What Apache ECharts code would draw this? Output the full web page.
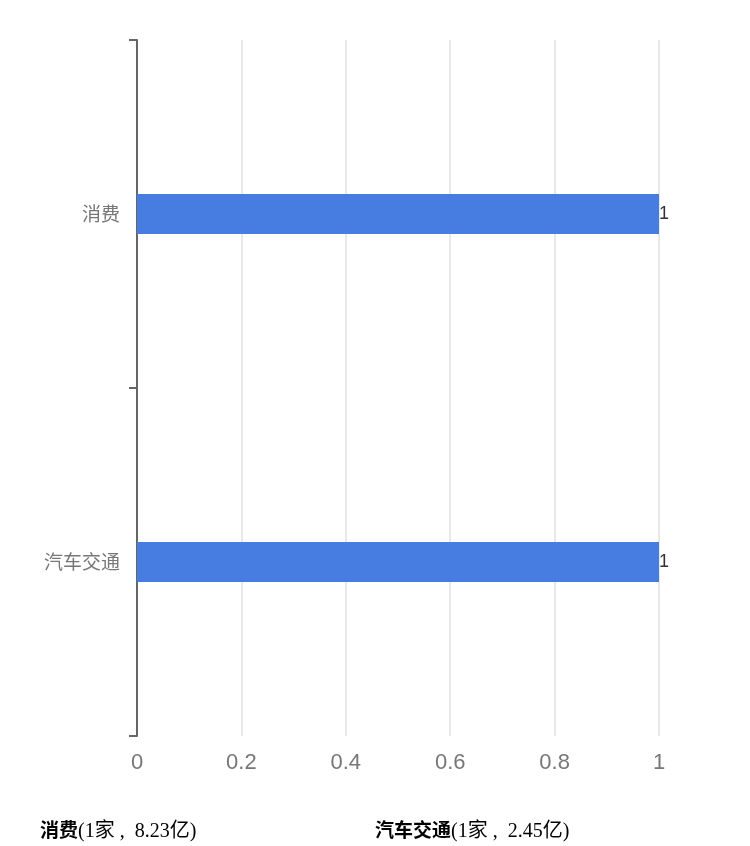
<!DOCTYPE html>
<html><head><meta charset="utf-8">
<script src="https://cdn.jsdelivr.net/npm/echarts@6/dist/echarts.min.js"></script>
<style>html,body{margin:0;padding:0;background:#fff}#c{width:750px;height:846px}</style>
</head><body><div id="c"></div>
<script>
const categories = ['消费', '汽车交通'];
const values = [1, 1];
const counts = [1, 1];
const amounts = ['8.23亿', '2.45亿'];
const xTicks = [0, 0.2, 0.4, 0.6, 0.8, 1];

const chart = echarts.init(document.getElementById('c'));
const legendX = [40, 375];
const ff = '"Liberation Serif", "Noto Sans CJK SC", serif';
chart.setOption({
  animation: false,
  grid: { left: 137, right: 91, top: 40, bottom: 110, containLabel: false },
  xAxis: {
    type: 'value', min: xTicks[0], max: xTicks[xTicks.length - 1], interval: 0.2,
    axisLine: { show: false }, axisTick: { show: false },
    splitLine: { show: true, lineStyle: { color: '#e0e0e0', width: 1.5 } },
    axisLabel: { color: '#777', fontSize: 22, margin: 16, fontFamily: '"Liberation Sans", Arial, sans-serif',
      formatter: v => String(Math.round(v * 10) / 10) }
  },
  yAxis: {
    type: 'category', data: categories, inverse: true,
    axisLine: { show: true, lineStyle: { color: '#666', width: 2 } },
    axisTick: { show: true, length: 8, lineStyle: { color: '#666', width: 2 } },
    axisLabel: { color: '#777', fontSize: 19, margin: 17, fontFamily: '"Noto Sans CJK SC", sans-serif' }
  },
  series: [{
    type: 'bar', data: values, barWidth: 40,
    itemStyle: { color: '#477de0' },
    label: { show: true, position: 'right', distance: 0, color: '#333', fontSize: 18,
      fontFamily: '"Liberation Sans", Arial, sans-serif' }
  }],
  graphic: categories.map((c, i) => ({
    type: 'text', left: legendX[i], top: 822,
    style: {
      text: '{b|' + c + '}{n|(' + counts[i] + '家 ,  ' + amounts[i] + ')}',
      rich: {
        b: { fontSize: 19, lineHeight: 24, fontWeight: 'bold', fill: '#000', fontFamily: ff },
        n: { fontSize: 20, lineHeight: 24, fill: '#000', fontFamily: ff }
      }
    }
  }))
});
</script></body></html>
